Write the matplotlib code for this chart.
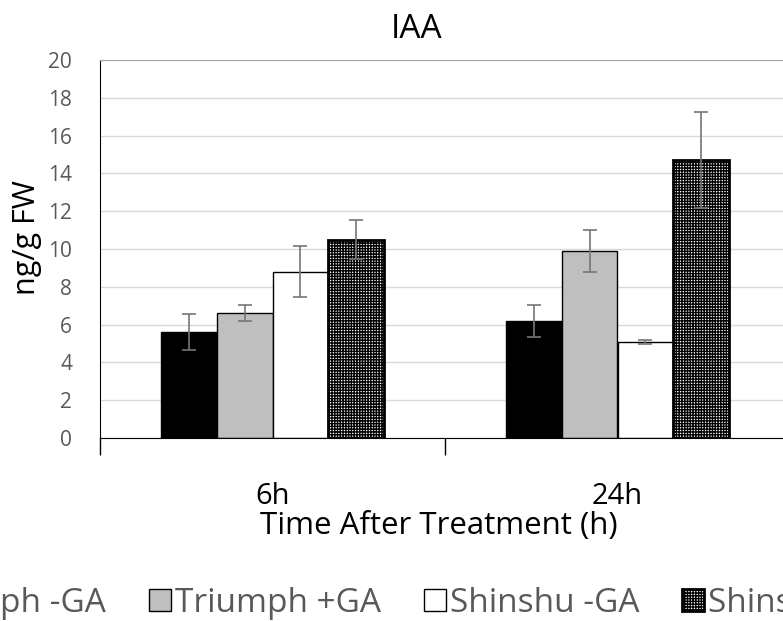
import matplotlib
matplotlib.use("Agg")
import matplotlib.pyplot as plt
import numpy as np

plt.rcParams['font.family'] = ['Open Sans', 'DejaVu Sans']
plt.rcParams['hatch.linewidth'] = 1.0

# data
categories = ['6h', '24h']
series = ['Triumph -GA', 'Triumph +GA', 'Shinshu -GA', 'Shinshu +GA']
triumph_minus = [5.6, 6.2]
triumph_plus = [6.6, 9.9]
shinshu_minus = [8.8, 5.1]
shinshu_plus = [10.5, 14.7]
err_triumph_minus = [0.95, 0.85]
err_triumph_plus = [0.43, 1.1]
err_shinshu_minus = [1.35, 0.1]
err_shinshu_plus = [1.05, 2.55]

values = [triumph_minus, triumph_plus, shinshu_minus, shinshu_plus]
errors = [err_triumph_minus, err_triumph_plus, err_shinshu_minus, err_shinshu_plus]
faces = ['black', '#bfbfbf', 'white', 'white']
hatches = [None, None, None, '++++++']
edge_w = [1.0, 1.0, 1.0, 2.0]

grey = '#595959'

fig = plt.figure(figsize=(7.83, 6.21), dpi=100)
# plot area runs past the right edge of the (cropped) image
ax = fig.add_axes([100/783, 1 - 438/621, 690/783, 378/621])

x = np.arange(len(categories))
w = 0.161
handles = []
for i, (vals, errs) in enumerate(zip(values, errors)):
    pos = x + (i - 1.5) * w
    b = ax.bar(pos, vals, w, color=faces[i], edgecolor='black',
               linewidth=edge_w[i], hatch=hatches[i], label=series[i], zorder=2)
    ax.errorbar(pos, vals, yerr=errs, fmt='none', ecolor='#767676',
                elinewidth=1.2, capsize=5, capthick=1.2, zorder=3)
    handles.append(b)

ax.set_xlim(-0.5, 1.5)
ax.set_ylim(0, 20)
ax.set_yticks(np.arange(0, 21, 2))
ax.yaxis.grid(True, color='#d9d9d9', linewidth=1, zorder=0)
ax.set_axisbelow(True)
ax.tick_params(axis='y', length=0, pad=20, labelsize=15, labelcolor=grey)

ax.set_xticks(x)
ax.set_xticklabels(categories)
ax.set_xticks([-0.5, 0.5, 1.5], minor=True)
ax.tick_params(axis='x', which='major', length=0, pad=32, labelsize=21, labelcolor='black')
ax.tick_params(axis='x', which='minor', length=12, width=1, color='black')

ax.spines['right'].set_visible(False)
ax.spines['left'].set_color('black')
ax.spines['bottom'].set_color('black')
ax.spines['top'].set_color('#a6a6a6')

fig.text(417/783, 1 - 30/621, 'IAA', ha='center', va='center', fontsize=24)
fig.text(439/783, 1 - 526/621, 'Time After Treatment (h)', ha='center', va='center', fontsize=22.5)
fig.text(27/783, 1 - 238/621, 'ng/g FW', ha='center', va='center', rotation=90, fontsize=22)

leg = fig.legend(handles, series, ncol=4, loc='center left',
                 bbox_to_anchor=(-118/783, 1 - 603/621), frameon=False,
                 borderaxespad=0, borderpad=0,
                 fontsize=24, handlelength=0.65, handleheight=0.65,
                 handletextpad=0.12, columnspacing=1.3, labelcolor=grey)

fig.savefig('out.png', dpi=100)
